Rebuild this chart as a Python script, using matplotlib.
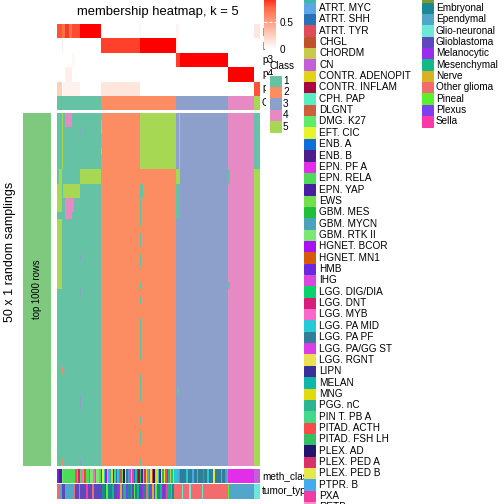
import numpy as np
import matplotlib
matplotlib.use("Agg")
import matplotlib.pyplot as plt
from matplotlib.colors import ListedColormap, LinearSegmentedColormap, Normalize
from matplotlib.cm import ScalarMappable
from matplotlib.patches import Rectangle

plt.rcParams['font.family'] = ['Liberation Sans', 'DejaVu Sans']

W = H = 504

# ---- data ----
class_names = ["1", "2", "3", "4", "5"]
class_colors = ["#66C2A5", "#FC8D62", "#8DA0CB", "#E78AC3", "#A6D854"]
class_sizes = [29, 50, 35, 17, 4]

# membership runs (value, n columns), one list per row p1..p5, ordered by class
p1_runs = [(0.8, 3), (0.72, 2), (0.86, 3), (0.7, 2), (0.82, 5), (1.0, 14),
           (0, 26), (0.05, 1), (0, 23), (0.06, 2), (0, 33), (0, 17), (0.12, 4)]
p2_runs = [(0, 3), (0.1, 1), (0, 25), (0.84, 26), (1.0, 24),
           (0.05, 2), (0, 33), (0, 17), (0, 4)]
p3_runs = [(0, 10), (0.05, 1), (0, 18), (0, 50), (0.85, 3), (1.0, 32), (0, 17), (0, 4)]
p4_runs = [(0, 5), (0.08, 5), (0, 19), (0, 50), (0, 35), (1.0, 17), (0, 4)]
p5_runs = [(0.25, 3), (0, 1), (0.07, 11), (0, 14), (0.13, 26), (0, 24),
           (0, 35), (0, 17), (0.8, 4)]

n_samplings = 50
# deviations from the consensus class: (row0, row1, col0, col1, class)
deviations = [
    (0, 8, 3, 4, 5), (0, 2, 5, 10, 4), (2, 3, 15, 16, 3),
    (8, 10, 1, 3, 5), (8, 10, 15, 29, 5),
    (10, 12, 0, 3, 5), (10, 12, 4, 15, 5),
    (12, 14, 0, 3, 5), (12, 14, 5, 11, 4), (14, 15, 5, 10, 4),
    (15, 25, 0, 3, 5), (20, 21, 15, 16, 3), (25, 26, 15, 16, 3),
    (36, 37, 3, 4, 2), (40, 42, 15, 16, 3), (49, 50, 3, 4, 2), (49, 50, 15, 16, 3),
    (1, 3, 29, 30, 5), (5, 6, 29, 30, 5),
    (0, 8, 55, 79, 5), (0, 8, 81, 82, 5), (8, 10, 79, 82, 5),
    (10, 12, 55, 57, 1), (12, 15, 55, 56, 1), (15, 16, 55, 56, 1),
    (17, 19, 55, 56, 1), (20, 22, 55, 56, 1), (24, 25, 55, 56, 1),
    (26, 27, 55, 56, 1), (29, 35, 55, 56, 1), (37, 41, 55, 56, 1),
    (43, 44, 55, 56, 1), (45, 47, 55, 56, 1), (49, 50, 55, 56, 1),
    (10, 15, 79, 82, 1), (39, 40, 80, 81, 1),
    (8, 10, 114, 115, 1), (24, 25, 114, 115, 1),
    (0, 8, 131, 135, 1),
]

meth_names = ["ANA. PA", "ATRT. MYC", "ATRT. SHH", "ATRT. TYR", "CHGL", "CHORDM", "CN",
              "CONTR. ADENOPIT", "CONTR. INFLAM", "CPH. PAP", "DLGNT", "DMG. K27",
              "EFT. CIC", "ENB. A", "ENB. B", "EPN. PF A", "EPN. RELA", "EPN. YAP", "EWS",
              "GBM. MES", "GBM. MYCN", "GBM. RTK II", "HGNET. BCOR", "HGNET. MN1", "HMB",
              "IHG", "LGG. DIG/DIA", "LGG. DNT", "LGG. MYB", "LGG. PA MID", "LGG. PA PF",
              "LGG. PA/GG ST", "LGG. RGNT", "LIPN", "MELAN", "MNG", "PGG. nC",
              "PIN T. PB A", "PITAD. ACTH", "PITAD. FSH LH", "PLEX. AD", "PLEX. PED A",
              "PLEX. PED B", "PTPR. B", "PXA", "RETB"]
meth_colors = ["#3CB9A8", "#5AA6E6", "#2870B8", "#DE4C5A", "#C0522A", "#C8CA4A", "#C45FD9",
               "#E3D21A", "#A8063F", "#55EFC0", "#CF5C3A", "#5EEA6A",
               "#E6F52B", "#0E6FD9", "#4D1D8C", "#E22EE8", "#4EDB5A", "#4A1EA0", "#72E04A",
               "#1FBF3A", "#4AA3BD", "#7AE872", "#A812F2", "#D65A0A", "#6A28E0",
               "#DA48DB", "#0BD16C", "#D81D78", "#FB68CC", "#27C9D6", "#2F7F99",
               "#DD3DE6", "#EDE050", "#3A2E98", "#0DB7AB", "#E0DA0E", "#2CB58E",
               "#42D98A", "#FA4B4B", "#34C060", "#22146E", "#D9326A",
               "#E6E84A", "#45AAEE", "#F33AA0", "#F590C8"]

tumor_names = ["Control", "Embryonal", "Ependymal", "Glio-neuronal", "Glioblastoma",
               "Melanocytic", "Mesenchymal", "Nerve", "Other glioma", "Pineal",
               "Plexus", "Sella"]
tumor_colors = ["#7D9A2A", "#1C8896", "#52A6CA", "#6BE8D6", "#5E48BE",
                "#9A2CF0", "#12B888", "#D8B224", "#F26C6E", "#5AF02E",
                "#7D3FF0", "#FB38A8"]

meth_runs = [
    ("HMB", 1), ("ENB. B", 2), ("DMG. K27", 1), ("EPN. RELA", 8), ("PITAD. ACTH", 1),
    ("EPN. RELA", 1), ("LGG. DNT", 1), ("EPN. RELA", 1), ("LGG. MYB", 1), ("EPN. RELA", 1),
    ("HGNET. MN1", 1), ("EPN. RELA", 2), ("MELAN", 1), ("GBM. RTK II", 2), ("LGG. MYB", 1),
    ("GBM. MES", 1), ("GBM. RTK II", 2), ("EPN. RELA", 1),
    ("ENB. A", 1), ("EFT. CIC", 1), ("LGG. PA MID", 1), ("HGNET. BCOR", 1), ("MNG", 1),
    ("ATRT. MYC", 1), ("PGG. nC", 1), ("CONTR. ADENOPIT", 1), ("EPN. YAP", 1),
    ("PIN T. PB A", 1), ("ATRT. SHH", 1), ("LGG. PA MID", 1), ("MELAN", 1), ("ATRT. TYR", 1),
    ("EWS", 1), ("PLEX. AD", 1), ("EFT. CIC", 1), ("LGG. PA PF", 1), ("GBM. MYCN", 1),
    ("IHG", 1), ("MNG", 1), ("PXA", 1), ("ENB. A", 1), ("LGG. DIG/DIA", 1),
    ("HGNET. BCOR", 1), ("CONTR. INFLAM", 1), ("PITAD. FSH LH", 1), ("LIPN", 1),
    ("DMG. K27", 1), ("PLEX. PED A", 1), ("MNG", 1), ("ATRT. MYC", 1), ("EPN. PF A", 1),
    ("LGG. RGNT", 1), ("CHGL", 1), ("PLEX. AD", 1), ("CPH. PAP", 1), ("MNG", 1),
    ("LGG. PA MID", 1), ("ENB. B", 1), ("EFT. CIC", 1), ("GBM. MES", 1), ("PLEX. PED B", 1),
    ("PITAD. ACTH", 1), ("ATRT. SHH", 1), ("MELAN", 1), ("CHORDM", 1), ("LGG. DIG/DIA", 1),
    ("MNG", 1), ("LGG. PA MID", 1),
    ("LGG. PA MID", 1), ("ATRT. MYC", 1), ("PGG. nC", 1), ("LGG. PA PF", 4),
    ("LGG. PA MID", 1), ("LGG. PA PF", 3), ("PTPR. B", 1), ("LGG. PA PF", 2),
    ("LGG. PA MID", 1), ("LGG. PA PF", 3), ("LGG. PA/GG ST", 1), ("LGG. PA PF", 2),
    ("LGG. PA MID", 1), ("LGG. PA PF", 3), ("LGG. RGNT", 1), ("LGG. PA PF", 4),
    ("LGG. PA MID", 1), ("LGG. PA PF", 2), ("GBM. MYCN", 1), ("LGG. PA MID", 1),
    ("EPN. PF A", 17), ("CN", 4),
]
tumor_runs = [
    ("Other glioma", 1), ("Ependymal", 2), ("Glioblastoma", 2), ("Ependymal", 6),
    ("Other glioma", 1), ("Glioblastoma", 2), ("Other glioma", 1), ("Glioblastoma", 4),
    ("Sella", 1), ("Glioblastoma", 3), ("Other glioma", 1), ("Glioblastoma", 5),
    ("Embryonal", 2), ("Glioblastoma", 1), ("Pineal", 1), ("Embryonal", 2), ("Plexus", 1),
    ("Mesenchymal", 1), ("Glioblastoma", 2), ("Melanocytic", 1), ("Embryonal", 1),
    ("Nerve", 1), ("Glioblastoma", 1), ("Mesenchymal", 2), ("Plexus", 1), ("Embryonal", 2),
    ("Sella", 1), ("Glioblastoma", 1), ("Pineal", 1), ("Embryonal", 1), ("Mesenchymal", 1),
    ("Glioblastoma", 2), ("Melanocytic", 1), ("Embryonal", 2), ("Other glioma", 1),
    ("Mesenchymal", 1), ("Plexus", 1), ("Embryonal", 1), ("Nerve", 1), ("Glioblastoma", 1),
    ("Pineal", 1), ("Embryonal", 2), ("Mesenchymal", 1), ("Melanocytic", 1),
    ("Glioblastoma", 1), ("Embryonal", 1), ("Sella", 1), ("Mesenchymal", 2),
    ("Other glioma", 1), ("Embryonal", 1),
    ("Other glioma", 5), ("Glio-neuronal", 1), ("Other glioma", 4), ("Glio-neuronal", 1),
    ("Other glioma", 7), ("Glio-neuronal", 1), ("Other glioma", 16),
    ("Pineal", 1), ("Ependymal", 16), ("Glio-neuronal", 4),
]


def expand(runs):
    out = []
    for v, n in runs:
        out += [v] * n
    return out


def px_axes(x0, y0, x1, y1):
    return fig.add_axes([x0 / W, 1 - y1 / H, (x1 - x0) / W, (y1 - y0) / H])


mem_cmap = LinearSegmentedColormap.from_list(
    "mem", ["#FFFFFF", "#FFCFBE", "#FF9E81", "#FF6846", "#FF0000"])
class_cmap = ListedColormap(class_colors)

fig = plt.figure(figsize=(7, 7), dpi=72)

X0, X1 = 57, 259

# top membership heatmap
mem = np.array([expand(r) for r in [p1_runs, p2_runs, p3_runs, p4_runs, p5_runs]])
ax = px_axes(X0, 24, X1, 96)
ax.imshow(mem, cmap=mem_cmap, vmin=0, vmax=1, aspect="auto", interpolation="nearest")
ax.set_axis_off()

# consensus class row
cls = np.array(expand([(i, n) for i, n in enumerate(class_sizes)]))
ax = px_axes(X0, 96, X1, 110)
ax.imshow(cls[None, :], cmap=class_cmap, vmin=-0.5, vmax=4.5, aspect="auto",
          interpolation="nearest")
ax.set_axis_off()

# samplings heatmap
main = np.tile(cls, (n_samplings, 1))
for r0, r1, c0, c1, k in deviations:
    main[r0:r1, c0:c1] = k - 1
ax = px_axes(X0, 113, X1, 466)
ax.imshow(main, cmap=class_cmap, vmin=-0.5, vmax=4.5, aspect="auto",
          interpolation="nearest")
ax.set_axis_off()

# left block
ax = px_axes(23, 113, 51, 466)
ax.imshow([[0]], cmap=ListedColormap(["#7FC97F"]), aspect="auto")
ax.set_axis_off()
ax.text(0.5, 0.5, "top 1000 rows", rotation=90, ha="center", va="center",
        fontsize=9.5, transform=ax.transAxes)

# bottom annotations
meth_idx = [meth_names.index(m) for m in expand(meth_runs)]
ax = px_axes(X0, 469, X1, 483)
ax.imshow([meth_idx], cmap=ListedColormap(meth_colors), vmin=-0.5,
          vmax=len(meth_colors) - 0.5, aspect="auto", interpolation="nearest")
ax.set_axis_off()
tumor_idx = [tumor_names.index(t) for t in expand(tumor_runs)]
ax = px_axes(X0, 484, X1, 499)
ax.imshow([tumor_idx], cmap=ListedColormap(tumor_colors), vmin=-0.5,
          vmax=len(tumor_colors) - 0.5, aspect="auto", interpolation="nearest")
ax.set_axis_off()

# overlay for text and legends (pixel coordinates)
lax = fig.add_axes([0, 0, 1, 1], zorder=5)
lax.set_xlim(0, W)
lax.set_ylim(H, 0)
lax.set_axis_off()

lax.text(158, 12, "membership heatmap, k = 5", ha="center", va="center", fontsize=13)
lax.text(10, 252, "50 x 1 random samplings", rotation=90, ha="center", va="center",
         fontsize=12.5)
for i, p in enumerate(["p1", "p2", "p3", "p4", "p5"]):
    lax.text(262, 31 + i * 14.3, p, ha="left", va="center", fontsize=10)
lax.text(262, 103, "Class", ha="left", va="center", fontsize=10)
lax.text(262, 476, "meth_class", ha="left", va="center", fontsize=10)
lax.text(262, 491.5, "tumor_type", ha="left", va="center", fontsize=10)

# colorbar legend
lax.add_patch(Rectangle((265, -10), 35, 62, color="white", zorder=6))
cax = px_axes(264, -6, 276, 49)
cax.set_zorder(7)
cb = fig.colorbar(ScalarMappable(norm=Normalize(0, 1), cmap=mem_cmap), cax=cax,
                  ticks=[0, 0.5])
cb.outline.set_visible(False)
cax.tick_params(length=0, labelsize=10, pad=4)
cax.set_yticklabels(["0", "0.5"])
cax.axhline(0.5, color="white", lw=1, ls=(0, (3, 2)))

# Class legend
lax.add_patch(Rectangle((266, 75), 30, 62, color="white", zorder=6))
lax.text(270, 66, "Class", ha="left", va="center", fontsize=10, zorder=7)
for i, (n, c) in enumerate(zip(class_names, class_colors)):
    y = 81 + i * 11.4
    lax.add_patch(Rectangle((270, y - 5.4), 10.5, 10.8, color=c, zorder=7))
    lax.text(283, y, n, ha="left", va="center", fontsize=10, zorder=7)

# meth_class legend
for i, (n, c) in enumerate(zip(meth_names, meth_colors)):
    y = 8 + (i - 1) * 11.35
    lax.add_patch(Rectangle((304, y - 5.4), 11, 10.8, color=c, zorder=7))
    lax.text(319, y, n, ha="left", va="center", fontsize=10, zorder=7)

# tumor_type legend
for i, (n, c) in enumerate(zip(tumor_names, tumor_colors)):
    y = 8 + (i - 1) * 11.35
    lax.add_patch(Rectangle((422, y - 5.4), 11, 10.8, color=c, zorder=7))
    lax.text(436, y, n, ha="left", va="center", fontsize=10, zorder=7)

fig.savefig("out.png", dpi=72)
